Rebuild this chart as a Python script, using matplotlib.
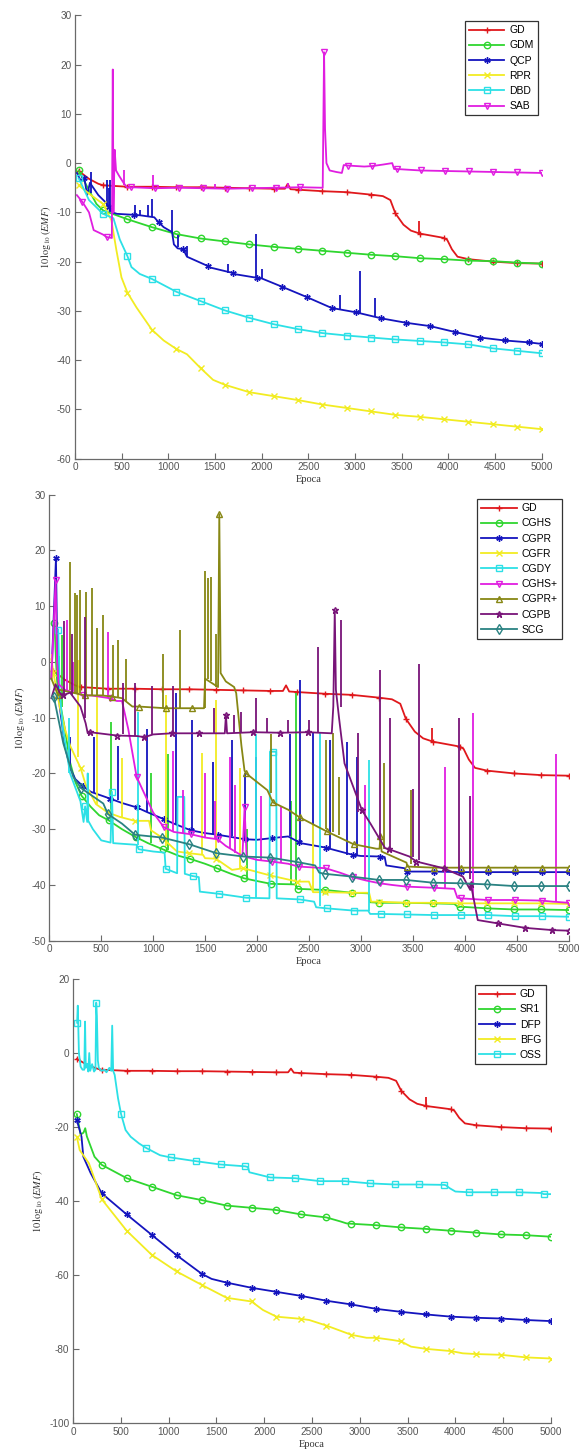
"""
Training error curves (10 log10 EMF versus epoch) for three families of
training algorithms, stacked in three panels.
"""

import numpy as np
import matplotlib
matplotlib.use("Agg")
import matplotlib.pyplot as plt
from matplotlib.lines import Line2D


# ---------------------------------------------------------------- panel 1
GD_MARK = [-1.6, -4.5, -4.8, -4.8, -4.9, -4.9, -5.0, -5.1, -5.2, -5.4,
           -5.7, -5.9, -6.4, -10.2, -14.3, -15.2, -19.5, -20.0, -20.3, -20.4]
GD_DX = [150, 250, 2250, 2280, 2310, 3300, 3380, 3520, 3600, 3900, 3990, 4040, 4100]
GD_DY = [-3.2, -4.2, -5.2, -4.2, -5.3, -6.7, -7.5, -12.5, -13.7, -15.0, -15.6, -17.5, -19.0]
GD_SPK_X = [3690]
GD_SPK_LO = [-14.2]
GD_SPK_HI = [-11.8]

GDM_MARK = [-1.5, -9.6, -11.4, -13.0, -14.4, -15.3, -15.9, -16.5, -17.0, -17.4,
            -17.8, -18.2, -18.6, -18.9, -19.3, -19.5, -19.8, -19.9, -20.2, -20.4]
GDM_DX = [150, 230]
GDM_DY = [-5.5, -8.3]

QCP_MARK = [-3.0, -9.0, -10.5, -12.0, -17.5, -20.9, -22.3, -23.3, -25.1, -27.2,
            -29.4, -30.3, -31.5, -32.4, -33.1, -34.3, -35.4, -36.0, -36.4, -36.7]
QCP_DX = [20, 60, 130, 160, 250, 330, 400, 450, 700, 850, 950, 1040, 1060, 1100, 1200, 1450, 1700, 2000]
QCP_DY = [-2.0, -3.5, -6.5, -4.0, -6.5, -8.0, -10.0, -10.3, -10.6, -11.0, -13.0, -14.0,
          -16.5, -17.3, -19.0, -21.2, -22.5, -23.4]
QCP_SPK_X = [170, 340, 360, 380, 640, 700, 780, 830, 1040, 1100, 1200, 1640, 1940, 2000, 2840, 3050, 3220]
QCP_SPK_LO = [-6, -9, -9, -10, -10.6, -10.6, -10.8, -11, -14, -17, -19, -22.3, -23.3, -23.4,
              -29.8, -30.5, -31.3]
QCP_SPK_HI = [-1.8, -3.4, -5, -3.5, -8.6, -9.5, -8.6, -7.2, -9.5, -14.5, -16.8, -20.5, -14.3,
              -21.5, -26.8, -21.8, -27.4]

RPR_MARK = [-4.5, -8.3, -26.3, -33.8, -37.7, -41.6, -45.0, -46.5, -47.3, -48.1,
            -49.0, -49.7, -50.4, -51.1, -51.5, -52.0, -52.5, -53.0, -53.5, -54.0]
RPR_DX = [150, 390, 444, 498, 659, 950, 1200, 1480]
RPR_DY = [-6.2, -11.6, -17.7, -23.2, -29.3, -36.0, -38.8, -44.0]

DBD_MARK = [-3.1, -10.3, -18.9, -23.5, -26.1, -28.0, -29.9, -31.4, -32.7, -33.7,
            -34.5, -35.0, -35.4, -35.8, -36.1, -36.4, -36.8, -37.6, -38.1, -38.6]
DBD_DX = [150, 412, 480, 605, 694]
DBD_DY = [-7.5, -11.2, -15.5, -21.1, -22.5]

SAB_MARK = [-7.9, -15.0, -4.9, -5.1, -5.0, -5.1, -5.2, -5.1, -5.0, -4.9,
            22.5, -0.5, -0.6, -1.2, -1.5, -1.6, -1.7, -1.8, -1.9, -2.0]
SAB_DX = [20, 150, 200, 300, 395, 405, 412, 425, 440, 470, 520, 560, 2655, 2680, 2695,
          2730, 2800, 2860, 2880, 3100, 3300, 3400, 3420]
SAB_DY = [-6.5, -10, -13.6, -14.5, -15.2, 19.0, -10, 2.7, -1.5, -2.5, -4, -5, -5.0, 7, 0,
          -1.5, -1.8, -2.0, -0.4, -0.7, -0.3, 0.0, -1.2]
SAB_SPK_X = [530, 840, 1500, 2280]
SAB_SPK_LO = [-4.5, -5.3, -5.2, -5.1]
SAB_SPK_HI = [-1.4, -2.4, -4.3, -4.0]

# ---------------------------------------------------------------- panel 2
CGHS_MARK = [7.0, -24.0, -28.4, -31.4, -33.6, -35.3, -37.0, -38.8, -39.8, -40.7,
             -40.9, -41.4, -43.2, -43.2, -43.3, -43.9, -44.2, -44.4, -44.4, -44.5]
CGHS_DX = [65, 80, 150, 200, 250, 400, 480, 700, 950, 1250, 1500, 1750, 2000, 2370, 2385,
           3075, 3090, 3900, 3940]
CGHS_DY = [0, -5, -12, -18, -21.5, -26, -27.5, -30, -32.5, -34.8, -36.2, -38, -39.3, -39.9,
           -40.6, -41.5, -43.1, -43.4, -44.0]
CGHS_SPK_X = [95, 119, 593, 980, 1145, 1900, 2330, 2378]
CGHS_SPK_LO = [-6, -8, -28.6, -32.5, -33.8, -38.9, -39.9, -40.3]
CGHS_SPK_HI = [1, 4.8, -10.7, -20, -16.6, -30, -25, -5.6]

CGPR_MARK = [18.6, -22.3, -24.5, -26.1, -28.2, -30.2, -31.0, -31.8, -31.6, -32.3,
             -33.3, -34.6, -34.9, -37.6, -37.6, -37.7, -37.7, -37.7, -37.7, -37.7]
CGPR_DX = [20, 75, 100, 150, 200, 250, 400, 700, 950, 1200, 1500, 2000, 2300, 2420, 2700,
           3000, 3230, 3245, 3420]
CGPR_DY = [-3, 4, -8, -15, -19, -21, -23.3, -25.3, -27.0, -29.0, -30.7, -31.9, -31.3, -32.5,
           -33.5, -34.8, -35.0, -36.5, -37.0]
CGPR_SPK_X = [203, 435, 660, 945, 1220, 1373, 1576, 1762, 1880, 1993, 2314, 2414, 2539, 2699,
              2869, 2960]
CGPR_SPK_LO = [-19.5, -23.5, -24.8, -27, -29, -30.3, -30.9, -31.3, -31.8, -31.9, -31.3, -32.4,
               -33.0, -33.4, -34.7, -34.8]
CGPR_SPK_HI = [-13.5, -13.5, -15, -12, -5.6, -10.4, -18, -14, -20, -17, -13, -3.3, -12.8, -14,
               -14.3, -17]

CGFR_MARK = [-2.0, -19.0, -27.0, -28.5, -31.5, -34.3, -35.3, -37.0, -38.3, -39.4,
             -41.3, -41.4, -43.0, -43.2, -43.2, -43.3, -43.3, -43.3, -43.3, -43.4]
CGFR_DX = [20, 60, 100, 150, 200, 250, 350, 450, 680, 960, 980, 1230, 1480, 1500, 1760, 2500,
           2540, 3080, 3100]
CGFR_DY = [0.5, -4, -8, -12, -15, -17, -22, -25.5, -27.8, -28.5, -30.2, -34.0, -34.6, -35.2,
           -37.3, -39.4, -41.3, -41.4, -43.0]
CGFR_SPK_X = [25, 279, 455, 696, 1128, 1471, 1609, 1840, 2539]
CGFR_SPK_LO = [-3, -17, -25.5, -27.8, -33, -34.6, -35.3, -37, -41.3]
CGFR_SPK_HI = [1.5, 0.3, -5, -17.3, -5.9, -16.4, -6.8, -19, -29]

CGDY_MARK = [5.8, -25.9, -23.3, -33.6, -37.1, -38.4, -41.6, -42.3, -16.1, -42.6,
             -44.2, -44.6, -45.2, -45.3, -45.4, -45.4, -45.4, -45.6, -45.6, -45.7]
CGDY_DX = [100, 130, 200, 300, 330, 365, 370, 375, 420, 500, 590, 615, 840, 1000, 1110, 1231,
           1235, 1300, 1305, 1440, 1450, 2120, 2125, 2185, 2190, 2550, 2570, 3070, 3090]
CGDY_DY = [-5, -12, -20, -25, -28.7, -28.7, -20, -28.5, -30, -32, -32.4, -32.5, -32.8, -34.0,
           -34.2, -37.9, -24.2, -24.2, -38.0, -38.6, -41.2, -42.4, -16.1, -16.1, -42.4, -43,
           -44.0, -44.6, -45.2]
CGDY_SPK_X = [190, 850, 1994, 2603, 3083]
CGDY_SPK_LO = [-20, -32.8, -42.3, -43.8, -44.6]
CGDY_SPK_HI = [-10, -8.9, -13, -12.8, -17.6]

CGHSP_MARK = [14.7, -6.0, -6.5, -20.6, -29.6, -30.9, -31.8, -26.1, -35.8, -36.7,
              -37.0, -38.6, -39.7, -40.3, -40.5, -42.4, -42.7, -42.7, -42.8, -43.2]
CGHSP_DX = [20, 75, 90, 150, 250, 400, 650, 700, 760, 900, 1000, 1200, 1500, 1700, 1860, 1900,
            2000, 2300, 2800, 3050, 3300, 3900, 3930, 4850]
CGHSP_DY = [-3, 0, -4, -5, -5.5, -6.0, -7.0, -7.0, -12, -23, -27, -30.5, -31.5, -33, -34.8,
            -35.0, -35.5, -36.2, -37.8, -39.2, -40.0, -40.7, -42.3, -43.0]
CGHSP_SPK_X = [173, 230, 568, 1192, 1290, 1500, 1600, 1738, 1790, 2042, 2230, 3040, 3812, 4083, 4882]
CGHSP_SPK_LO = [-5, -5.3, -6.3, -30.3, -30.7, -31.5, -31.7, -33.3, -34.2, -35.5, -36, -39.1,
                -40.6, -42.5, -43.0]
CGHSP_SPK_HI = [7.5, 0, 5.4, -16, -23, -20, -25, -17, -22, -24, -26, -22, -18.8, -9.2, -16.5]

CGPRP_MARK = [-6.0, -6.0, -6.2, -8.0, -8.3, -8.3, 26.5, -20.0, -25.2, -27.9,
              -30.4, -32.7, -31.2, -36.7, -36.9, -36.9, -36.9, -36.9, -36.9, -36.9]
CGPRP_DX = [20, 100, 500, 700, 800, 1490, 1500, 1625, 1650, 1700, 1780, 1800, 1850, 1880, 2100,
            2300, 3150, 3180, 3200, 3440]
CGPRP_DY = [-3, -5, -6.0, -6.5, -8.0, -8.3, -3, -4.5, -2, -3.5, -4.5, -5.6, -15, -19.5, -23,
            -26.5, -33.5, -33.5, -34, -36.0]
CGPRP_SPK_X = [199, 247, 263, 295, 353, 407, 460, 519, 609, 660, 737, 1096, 1263, 1503, 1530,
               1561, 1610, 2138, 2667, 2731, 2789, 3228, 3484]
CGPRP_SPK_LO = [-5, -5.5, -5.5, -5.5, -5.8, -6, -6, -6, -6.2, -6.3, -7, -8.3, -8.3, -8.3, -3,
                -3.5, -4.5, -23.5, -30, -30.5, -31, -33.5, -36.2]
CGPRP_SPK_HI = [18.0, 12.3, 12, 12.9, 12.6, 13.2, 6, 8.4, 3, 3.9, 0.6, 1.5, 5.8, 16.3, 15,
                15.3, 5, -13, -14, -12.8, -20.6, -18.2, -23]

CGPB_MARK = [-6.0, -12.6, -13.2, -13.5, -12.8, -12.8, -9.5, -12.6, -12.7, -12.6,
             9.3, -26.6, -33.6, -35.8, -37.0, -39.8, -46.9, -47.7, -48.1, -48.2]
CGPB_DX = [20, 60, 100, 200, 300, 350, 370, 850, 1000, 1690, 1712, 2720, 2735, 2760, 2790,
           2843, 3093, 3234, 3468, 3983, 4054, 4126]
CGPB_DY = [-6.5, -4, -5.5, -5.5, -8, -11, -12.8, -13.3, -13.0, -12.8, -12.8, -12.8, -8, -5,
           -10, -18.2, -29, -33.4, -34.9, -38.5, -40.9, -46.3]
CGPB_SPK_X = [140, 220, 343, 712, 830, 991, 1193, 1584, 1780, 1850, 1994, 2100, 2300, 2500,
              2587, 2811, 2971, 3180, 3282, 3500, 3560, 3942, 4050]
CGPB_SPK_LO = [-6, -6, -10, -13, -13.3, -13, -12.8, -12.8, -12.8, -12.8, -12.7, -12.7, -12.7,
               -12.6, -12.7, -8, -27, -32, -33.8, -35, -35.5, -37.5, -39]
CGPB_SPK_HI = [7.4, 5.1, 8.1, -3.8, -3.7, -4.4, -4.4, -8.3, -9.5, -9, -6.5, -10, -10.5, -10.5,
               2.7, 7.5, -12.8, -1.5, -10.1, -22.7, -0.3, -10.1, -24]

SCG_MARK = [-6.2, -22.6, -27.3, -31.0, -31.5, -32.7, -34.3, -34.9, -35.1, -35.9,
            -38.0, -38.5, -39.1, -39.1, -39.6, -39.7, -39.9, -40.2, -40.2, -40.2]
SCG_DX = [135, 231, 520, 700, 2560, 2600]
SCG_DY = [-14.6, -20.6, -25.4, -29, -36.5, -37.8]

# ---------------------------------------------------------------- panel 3
SR1_MARK = [-16.5, -30.2, -33.8, -36.1, -38.4, -39.7, -41.2, -41.8, -42.4, -43.6,
            -44.4, -46.1, -46.5, -47.1, -47.5, -48.0, -48.5, -49.0, -49.2, -49.6]
SR1_DX = [80, 110, 128, 145, 167, 225, 2800, 2860]
SR1_DY = [-22, -21.5, -20.3, -22.5, -24, -28, -45.5, -46.0]

DFP_MARK = [-18.1, -37.9, -43.6, -49.1, -54.6, -59.6, -62.0, -63.4, -64.5, -65.6,
            -66.9, -67.9, -69.1, -69.9, -70.6, -71.2, -71.5, -71.7, -72.1, -72.4]
DFP_DX = [89, 108, 186, 1450]
DFP_DY = [-22.6, -28, -32.5, -61.0]

BFG_MARK = [-22.6, -39.5, -48.0, -54.5, -59.0, -62.6, -66.1, -67.1, -71.2, -71.8,
            -73.6, -76.1, -76.9, -77.9, -79.9, -80.5, -81.3, -81.5, -82.2, -82.5]
BFG_DX = [70, 167, 1987, 2471, 3071, 3342, 3536, 4078]
BFG_DY = [-26.2, -29.8, -69.4, -72.1, -76.9, -77.5, -79.3, -81.1]

OSS_MARK = [8.2, 13.6, -16.5, -25.6, -28.2, -29.2, -30.1, -30.6, -33.6, -33.8,
            -34.6, -34.6, -35.2, -35.5, -35.5, -35.6, -37.6, -37.6, -37.6, -38.1]
OSS_DX = [50, 62, 80, 100, 118, 126, 134, 150, 160, 170, 180, 200, 220, 235, 250, 260, 270,
          300, 330, 350, 380, 400, 410, 420, 436, 471, 550, 603, 690, 911, 1830, 1845, 3900,
          3940, 4000, 4900, 5000]
OSS_DY = [12.8, 0, -3.7, -4.5, -4.5, 8.5, -4.0, -2.9, -5.0, 0.0, -4.8, -3.0, -5.0, -4.5, 10.0,
          -2.0, -4.0, -4.8, -4.5, -5.2, -4.0, -4.8, 7.4, -4.8, -5.9, -12.2, -20.8, -22.6, -24.4,
          -27.6, -30.8, -32.2, -35.7, -36.5, -37.4, -37.8, -38.1]


# ---------------------------------------------------------------- styling
RED, GREEN, BLUE, YELLOW = "#e0181c", "#2fd62f", "#1414be", "#f2ec22"
CYAN, MAGENTA, OLIVE, PURPLE, TEAL = "#2ce0e6", "#e01ee0", "#878714", "#781478", "#2a8282"
ASTERISK = (6, 2, 0)
LW = 1.3
MS = 4.6
FIG_W, FIG_H = 582, 1454

plt.rcParams["axes.unicode_minus"] = False
plt.rcParams["mathtext.fontset"] = "stix"


def grid(first, n=20, last=5000):
    """Epochs at which a curve carries a marker."""
    return np.linspace(first, last, n)


def merge(mark_x, mark_y, det_x, det_y):
    """Combine marker points and detail points into one sorted path."""
    xs = np.concatenate([np.asarray(mark_x, float), np.asarray(det_x, float)])
    ys = np.concatenate([np.asarray(mark_y, float), np.asarray(det_y, float)])
    is_mark = np.concatenate([np.ones(len(mark_x), bool), np.zeros(len(det_x), bool)])
    order = np.argsort(xs, kind="stable")
    return xs[order], ys[order], np.flatnonzero(is_mark[order])


def draw(ax, color, marker, mark_x, mark_y, det_x=(), det_y=(), spk_x=(), spk_lo=(), spk_hi=()):
    """Draw one error curve with its spikes and markers, return a legend handle."""
    xs, ys, idx = merge(mark_x, mark_y, det_x, det_y)
    ax.plot(xs, ys, color=color, lw=LW)
    if len(spk_x):
        ax.vlines(spk_x, spk_lo, spk_hi, colors=color, lw=LW)
    style = dict(marker=marker, ms=MS, mfc="none", mec=color, mew=1.0)
    ax.plot(xs[idx], ys[idx], ls="none", **style)
    return Line2D([], [], color=color, lw=LW, **style)


def make_axes(fig, left, right, top, bottom, ylim, ystep):
    """Axes placed by pixel box, MATLAB-like look with left/bottom spines only."""
    ax = fig.add_axes([left / FIG_W, 1 - bottom / FIG_H, (right - left) / FIG_W, (bottom - top) / FIG_H])
    ax.set_xlim(0, 5000)
    ax.set_ylim(*ylim)
    ax.set_xticks(np.arange(0, 5001, 500))
    ax.set_yticks(np.arange(ylim[0], ylim[1] + 1, ystep))
    for side in ("top", "right"):
        ax.spines[side].set_visible(False)
    for side in ("left", "bottom"):
        ax.spines[side].set_color("#6a6a6a")
        ax.spines[side].set_linewidth(0.9)
    ax.tick_params(direction="in", length=4.5, width=0.8, color="#6a6a6a",
                   labelsize=7.2, labelcolor="#555555", pad=2.5)
    for lab in ax.get_xticklabels() + ax.get_yticklabels():
        lab.set_family("Liberation Sans")
    ax.set_xlabel("Epoca", family="Liberation Serif", fontsize=7.5, color="#333333", labelpad=2)
    ax.set_ylabel(r"$10\,\log_{10}(EMF)$", fontsize=7.5, color="#333333", labelpad=3)
    return ax


def add_legend(fig, ax, handles, labels, right, top):
    """Boxed legend anchored at a pixel corner."""
    leg = ax.legend(handles, labels, loc="upper right",
                    bbox_to_anchor=(right / FIG_W, 1 - top / FIG_H), bbox_transform=fig.transFigure,
                    borderaxespad=0, handlelength=3.4, handletextpad=0.5,
                    labelspacing=0.5, borderpad=0.4, fancybox=False, framealpha=1,
                    prop={"family": "Liberation Sans", "size": 7.5})
    leg.get_frame().set_edgecolor("#333333")
    leg.get_frame().set_linewidth(0.9)


def gd(ax):
    """Plain gradient descent, the reference curve of every panel."""
    return draw(ax, RED, "+", grid(40), GD_MARK, GD_DX, GD_DY, GD_SPK_X, GD_SPK_LO, GD_SPK_HI)


def main():
    fig = plt.figure(figsize=(FIG_W / 100, FIG_H / 100), dpi=100)

    # first-order methods
    ax = make_axes(fig, 75, 541.5, 15.3, 458.7, (-60, 30), 10)
    h = [gd(ax),
         draw(ax, GREEN, "o", grid(40), GDM_MARK, GDM_DX, GDM_DY),
         draw(ax, BLUE, ASTERISK, np.append(grid(100, 19, 4870), 5000), QCP_MARK, QCP_DX, QCP_DY,
              QCP_SPK_X, QCP_SPK_LO, QCP_SPK_HI),
         draw(ax, YELLOW, "x", grid(40), RPR_MARK, RPR_DX, RPR_DY),
         draw(ax, CYAN, "s", grid(40), DBD_MARK, DBD_DX, DBD_DY),
         draw(ax, MAGENTA, "v", grid(80), SAB_MARK, SAB_DX, SAB_DY, SAB_SPK_X, SAB_SPK_LO, SAB_SPK_HI)]
    add_legend(fig, ax, h, ["GD", "GDM", "QCP", "RPR", "DBD", "SAB"], 538, 21)

    # conjugate gradient methods
    ax = make_axes(fig, 49.3, 568.5, 494.7, 940.7, (-50, 30), 10)
    h = [gd(ax),
         draw(ax, GREEN, "o", grid(50), CGHS_MARK, CGHS_DX, CGHS_DY, CGHS_SPK_X, CGHS_SPK_LO, CGHS_SPK_HI),
         draw(ax, BLUE, ASTERISK, grid(64), CGPR_MARK, CGPR_DX, CGPR_DY, CGPR_SPK_X, CGPR_SPK_LO, CGPR_SPK_HI),
         draw(ax, YELLOW, "x", grid(40), CGFR_MARK, CGFR_DX, CGFR_DY, CGFR_SPK_X, CGFR_SPK_LO, CGFR_SPK_HI),
         draw(ax, CYAN, "s", grid(86), CGDY_MARK, CGDY_DX, CGDY_DY, CGDY_SPK_X, CGDY_SPK_LO, CGDY_SPK_HI),
         draw(ax, MAGENTA, "v", grid(61), CGHSP_MARK, CGHSP_DX, CGHSP_DY, CGHSP_SPK_X, CGHSP_SPK_LO,
              CGHSP_SPK_HI),
         draw(ax, OLIVE, "^", grid(85), CGPRP_MARK, CGPRP_DX, CGPRP_DY, CGPRP_SPK_X, CGPRP_SPK_LO,
              CGPRP_SPK_HI),
         draw(ax, PURPLE, "*", np.append(np.arange(129, 5000, 262), 5000), CGPB_MARK, CGPB_DX, CGPB_DY,
              CGPB_SPK_X, CGPB_SPK_LO, CGPB_SPK_HI),
         draw(ax, TEAL, "d", grid(43), SCG_MARK, SCG_DX, SCG_DY)]
    add_legend(fig, ax, h, ["GD", "CGHS", "CGPR", "CGFR", "CGDY", "CGHS+", "CGPR+", "CGPB", "SCG"],
               562, 499)

    # quasi-Newton methods
    ax = make_axes(fig, 73, 551, 979, 1423.3, (-100, 20), 20)
    h = [gd(ax),
         draw(ax, GREEN, "o", grid(40), SR1_MARK, SR1_DX, SR1_DY),
         draw(ax, BLUE, ASTERISK, grid(40), DFP_MARK, DFP_DX, DFP_DY),
         draw(ax, YELLOW, "x", grid(40), BFG_MARK, BFG_DX, BFG_DY),
         draw(ax, CYAN, "s", np.append(43, grid(243, 19, 4923)), OSS_MARK, OSS_DX, OSS_DY)]
    add_legend(fig, ax, h, ["GD", "SR1", "DFP", "BFG", "OSS"], 546, 985)

    fig.savefig("out.png", dpi=100)


if __name__ == "__main__":
    main()
